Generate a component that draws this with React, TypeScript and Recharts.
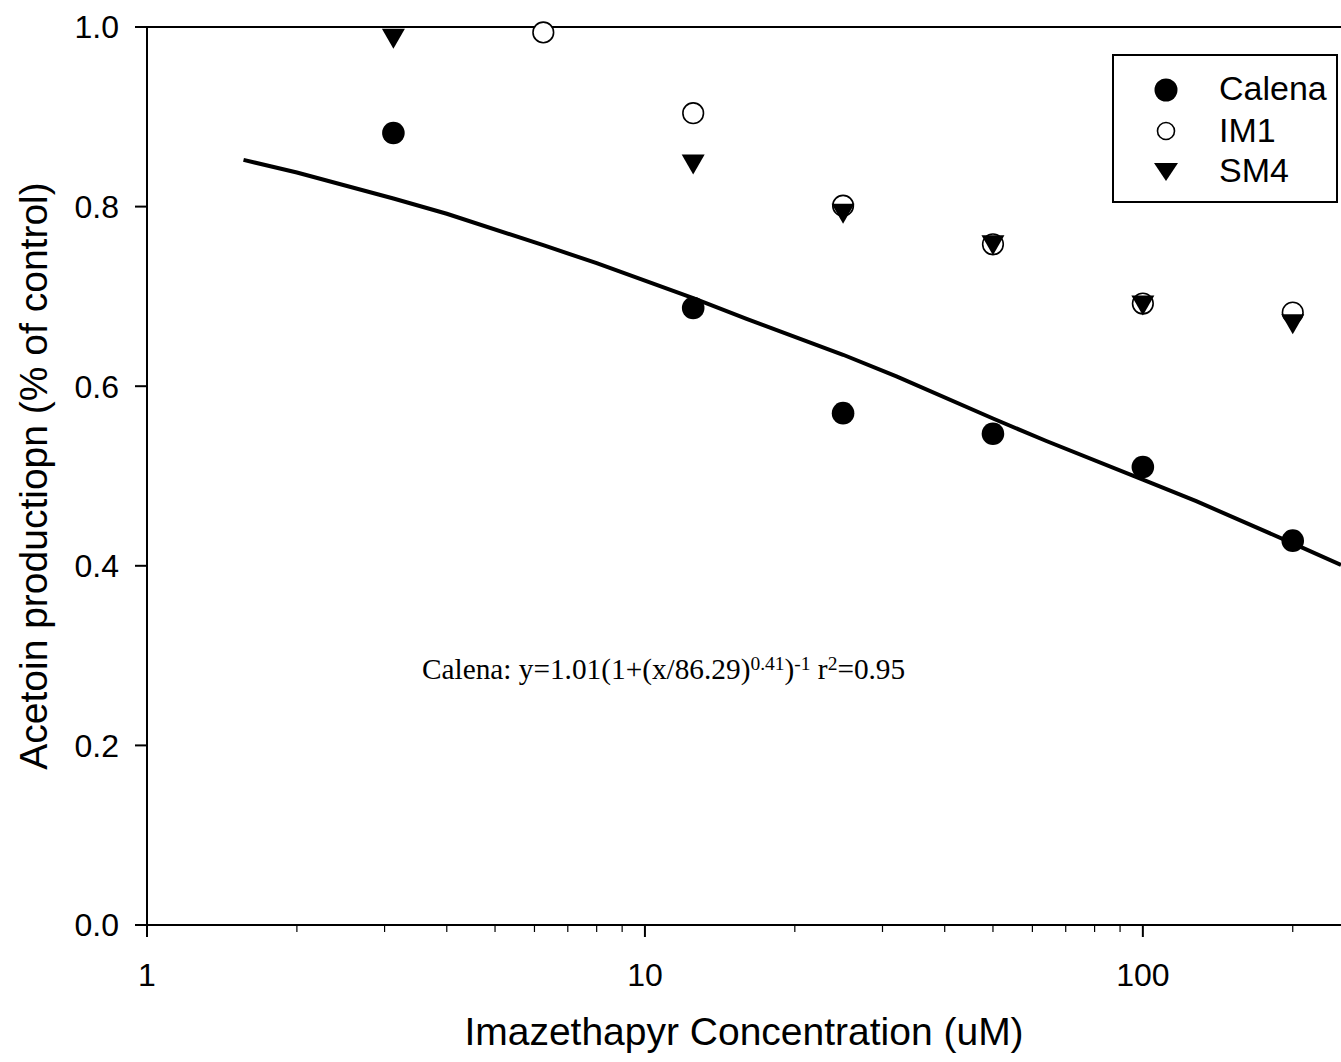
import React from 'react';
import { ComposedChart, XAxis, YAxis, Scatter, Line, ReferenceLine, Customized } from 'recharts';

const calenaX = [3.125, 12.5, 25, 50, 100, 200];
const calenaY = [0.882, 0.687, 0.57, 0.547, 0.51, 0.428];
const im1X = [6.25, 12.5, 25, 50, 100, 200];
const im1Y = [0.994, 0.904, 0.801, 0.758, 0.692, 0.682];
const sm4X = [3.125, 12.5, 25, 50, 100, 200];
const sm4Y = [0.987, 0.847, 0.792, 0.757, 0.69, 0.669];
const fitX = [1.5625, 2, 3.125, 4, 6.25, 8, 12.5, 16, 25, 32, 50, 64, 100, 128, 200, 250];
const fitY = [0.852, 0.838, 0.809, 0.792, 0.757, 0.737, 0.698, 0.675, 0.635, 0.611, 0.564, 0.539, 0.496, 0.472, 0.425, 0.401];

const xTicks = [1, 2, 3, 4, 5, 6, 7, 8, 9, 10, 20, 30, 40, 50, 60, 70, 80, 90, 100, 200];
const xMajor = [1, 10, 100];
const yTicks = [0, 0.2, 0.4, 0.6, 0.8, 1.0];

const seriesNames = ['Calena', 'IM1', 'SM4'];
const xTitle = 'Imazethapyr Concentration (uM)';
const yTitle = 'Acetoin productiopn (% of control)';

const zip = (xs: number[], ys: number[]) => xs.map((x, i) => ({ x, y: ys[i] }));
const calena = zip(calenaX, calenaY);
const im1 = zip(im1X, im1Y);
const sm4 = zip(sm4X, sm4Y);
const fit = zip(fitX, fitY);

const SANS = '"Liberation Sans", Arial, sans-serif';
const SERIF = '"Liberation Serif", "Times New Roman", serif';

const FilledCircle = (p: any) => <circle cx={p.cx} cy={p.cy} r={11.3} fill="#000" />;
const OpenCircle = (p: any) => (
  <circle cx={p.cx} cy={p.cy} r={10.3} fill="#fff" stroke="#000" strokeWidth={1.6} />
);
const DownTri = (p: any) => (
  <polygon
    points={`${p.cx - 11.5},${p.cy - 10} ${p.cx + 11.5},${p.cy - 10} ${p.cx},${p.cy + 10}`}
    fill="#000"
  />
);

const XTick = (p: any) => {
  const v = p.payload.value;
  const major = xMajor.includes(v);
  return (
    <g>
      <line
        x1={p.x}
        x2={p.x}
        y1={p.y}
        y2={p.y + (major ? 12 : 7)}
        stroke="#000"
        strokeWidth={major ? 2 : 1.2}
      />
      {major && (
        <text x={p.x} y={p.y + 61} textAnchor="middle" fontSize={32} fontFamily={SANS} fill="#000">
          {v}
        </text>
      )}
    </g>
  );
};

const YTick = (p: any) => (
  <text x={p.x} y={p.y} dy="0.355em" textAnchor="end" fontSize={32} fontFamily={SANS} fill="#000">
    {Number(p.payload.value).toFixed(1)}
  </text>
);

const Extras = () => (
  <g>
    <text x={744} y={1045} textAnchor="middle" fontSize={39} fontFamily={SANS} fill="#000">
      {xTitle}
    </text>
    <text
      transform="translate(47,476) rotate(-90)"
      textAnchor="middle"
      fontSize={39}
      fontFamily={SANS}
      fill="#000"
    >
      {yTitle}
    </text>
    <text x={422} y={679} fontSize={29.3} fontFamily={SERIF} fill="#000">
      <tspan>Calena: y=1.01(1+(x/86.29)</tspan>
      <tspan fontSize={19.5} dy={-9}>0.41</tspan>
      <tspan fontSize={29.3} dy={9}>)</tspan>
      <tspan fontSize={19.5} dy={-9}>-1</tspan>
      <tspan fontSize={29.3} dy={9}> r</tspan>
      <tspan fontSize={19.5} dy={-9}>2</tspan>
      <tspan fontSize={29.3} dy={9}>=0.95</tspan>
    </text>
    <rect x={1113} y={55} width={224} height={147} fill="#fff" stroke="#000" strokeWidth={2} />
    <circle cx={1166} cy={90} r={11.5} fill="#000" />
    <circle cx={1166} cy={131} r={8.5} fill="#fff" stroke="#000" strokeWidth={1.6} />
    <polygon points="1154,163 1178,163 1166,181" fill="#000" />
    <text x={1219} y={100} fontSize={34} fontFamily={SANS} fill="#000">{seriesNames[0]}</text>
    <text x={1219} y={142} fontSize={34} fontFamily={SANS} fill="#000">{seriesNames[1]}</text>
    <text x={1219} y={182} fontSize={34} fontFamily={SANS} fill="#000">{seriesNames[2]}</text>
  </g>
);

export default function App() {
  return (
    <div
      style={{
        position: 'fixed',
        left: 0,
        top: 0,
        width: 1341,
        height: 1062,
        overflow: 'hidden',
        background: '#fff',
      }}
    >
      <ComposedChart
        width={1341}
        height={1062}
        margin={{ top: 27, right: 0, bottom: 0, left: 0 }}
        style={{ fontFamily: SANS }}
      >
        <XAxis
          dataKey="x"
          type="number"
          scale="log"
          domain={[1, 250]}
          allowDataOverflow
          ticks={xTicks}
          interval={0}
          height={137}
          tickSize={0}
          tickMargin={0}
          tickLine={false}
          tick={<XTick />}
          axisLine={{ stroke: '#000', strokeWidth: 2 }}
        />
        <YAxis
          dataKey="y"
          type="number"
          domain={[0, 1]}
          ticks={yTicks}
          interval={0}
          width={147}
          tickSize={12}
          tickMargin={16}
          tickLine={{ stroke: '#000', strokeWidth: 2 }}
          tick={<YTick />}
          axisLine={{ stroke: '#000', strokeWidth: 2 }}
        />
        <ReferenceLine y={1} stroke="#000" strokeWidth={2} />
        <Line
          data={fit}
          dataKey="y"
          type="linear"
          stroke="#000"
          strokeWidth={4}
          dot={false}
          activeDot={false}
          isAnimationActive={false}
        />
        <Scatter data={calena} dataKey="y" shape={FilledCircle} isAnimationActive={false} />
        <Scatter data={im1} dataKey="y" shape={OpenCircle} isAnimationActive={false} />
        <Scatter data={sm4} dataKey="y" shape={DownTri} isAnimationActive={false} />
        <Customized component={Extras} />
      </ComposedChart>
    </div>
  );
}
